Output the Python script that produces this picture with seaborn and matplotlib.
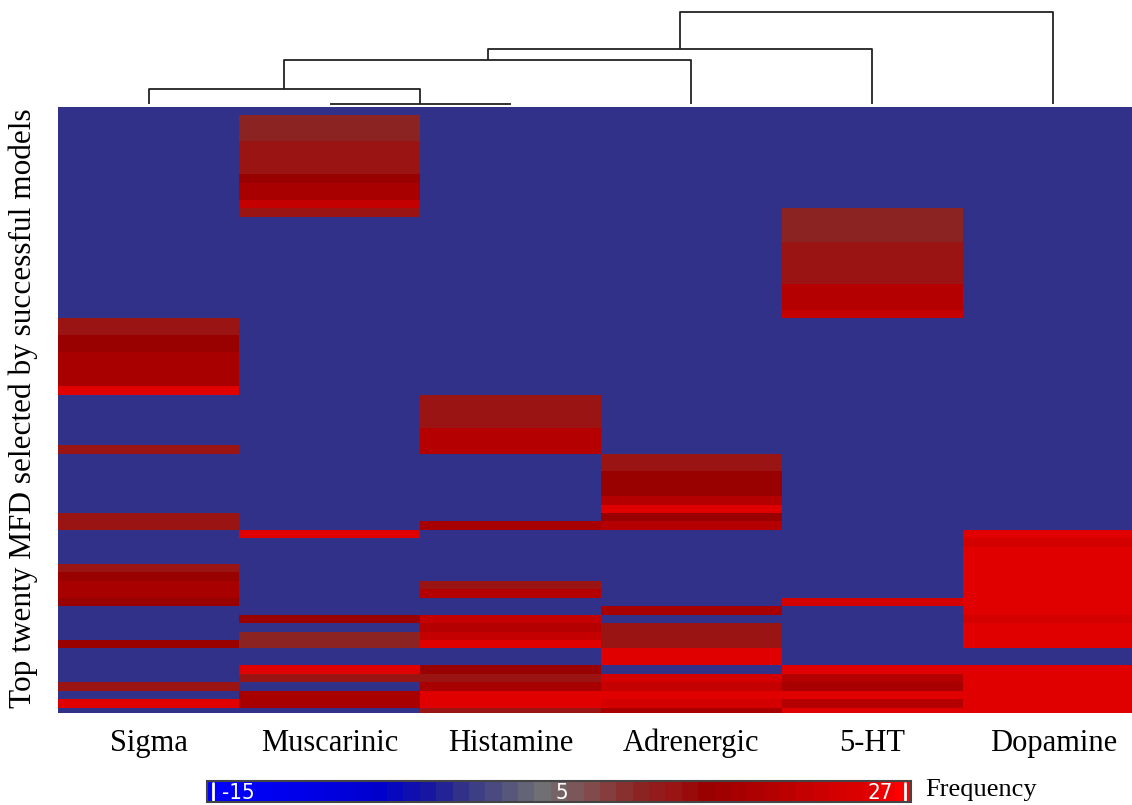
import numpy as np
import pandas as pd
import matplotlib
matplotlib.use("Agg")
import matplotlib.pyplot as plt
from matplotlib.colors import LinearSegmentedColormap, ListedColormap, BoundaryNorm
import seaborn as sns

# ---------------- data ----------------
receptors = ["Sigma", "Muscarinic", "Histamine", "Adrenergic", "5-HT", "Dopamine"]

sigma = [0, 0, 0, 0, 0, 0, 0, 0, 0, 0, 0, 0,
         0, 0, 0, 0, 0, 0, 0, 0, 0, 0, 0, 0,
         0, 13, 13, 15, 15, 17, 17, 17, 17, 25, 0, 0,
         0, 0, 0, 0, 13, 0, 0, 0, 0, 0, 0, 0,
         13, 13, 0, 0, 0, 0, 13, 15, 17, 17, 15, 0,
         0, 0, 0, 15, 0, 0, 0, 0, 13, 0, 25, 0]
muscarinic = [0, 11, 11, 11, 13, 13, 13, 13, 15, 17, 17, 21,
              13, 0, 0, 0, 0, 0, 0, 0, 0, 0, 0, 0,
              0, 0, 0, 0, 0, 0, 0, 0, 0, 0, 0, 0,
              0, 0, 0, 0, 0, 0, 0, 0, 0, 0, 0, 0,
              0, 0, 25, 0, 0, 0, 0, 0, 0, 0, 0, 0,
              15, 0, 11, 11, 0, 0, 25, 13, 0, 17, 17, 0]
histamine = [0, 0, 0, 0, 0, 0, 0, 0, 0, 0, 0, 0,
             0, 0, 0, 0, 0, 0, 0, 0, 0, 0, 0, 0,
             0, 0, 0, 0, 0, 0, 0, 0, 0, 0, 13, 13,
             13, 13, 19, 19, 19, 0, 0, 0, 0, 0, 0, 0,
             0, 17, 0, 0, 0, 0, 0, 0, 13, 19, 0, 0,
             21, 19, 21, 25, 0, 0, 15, 13, 17, 25, 25, 13]
adrenergic = [0, 0, 0, 0, 0, 0, 0, 0, 0, 0, 0, 0,
              0, 0, 0, 0, 0, 0, 0, 0, 0, 0, 0, 0,
              0, 0, 0, 0, 0, 0, 0, 0, 0, 0, 0, 0,
              0, 0, 0, 0, 0, 13, 13, 15, 15, 15, 19, 25,
              15, 19, 0, 0, 0, 0, 0, 0, 0, 0, 0, 17,
              0, 13, 13, 13, 25, 25, 0, 23, 21, 25, 23, 17]
serotonin = [0, 0, 0, 0, 0, 0, 0, 0, 0, 0, 0, 0,
             11, 11, 11, 11, 13, 13, 13, 13, 13, 19, 19, 19,
             21, 0, 0, 0, 0, 0, 0, 0, 0, 0, 0, 0,
             0, 0, 0, 0, 0, 0, 0, 0, 0, 0, 0, 0,
             0, 0, 0, 0, 0, 0, 0, 0, 0, 0, 23, 0,
             0, 0, 0, 0, 0, 0, 25, 19, 17, 25, 19, 25]
dopamine = [0, 0, 0, 0, 0, 0, 0, 0, 0, 0, 0, 0,
            0, 0, 0, 0, 0, 0, 0, 0, 0, 0, 0, 0,
            0, 0, 0, 0, 0, 0, 0, 0, 0, 0, 0, 0,
            0, 0, 0, 0, 0, 0, 0, 0, 0, 0, 0, 0,
            0, 0, 25, 23, 25, 25, 25, 25, 25, 25, 25, 25,
            23, 25, 25, 25, 0, 0, 25, 25, 25, 25, 25, 25]

# dendrogram merges over the columns: (cluster a, cluster b, height); new clusters numbered from 6
merges = [(1, 2, 0.0), (0, 6, 15.0), (7, 3, 44.0), (8, 4, 55.0), (9, 5, 92.0)]

vmin, vmax = -15, 27
cbar_labels = ["-15", "5", "27"]

# ---------------- style ----------------
sns.set_theme(style="white")
plt.rcParams["font.family"] = ["Liberation Serif", "DejaVu Serif"]

cmap_nodes = [(-15, (0, 0, 255)), (-10, (0, 0, 235)), (-5, (0, 0, 205)), (-2, (22, 22, 160)),
              (0, (49, 49, 137)), (5, (112, 112, 116)), (8, (130, 75, 75)), (11, (139, 35, 35)),
              (13, (154, 20, 20)), (15, (153, 0, 0)), (17, (168, 0, 0)), (19, (180, 0, 0)),
              (21, (196, 0, 0)), (23, (212, 0, 0)), (25, (224, 0, 0)), (27, (255, 0, 0))]
smooth = LinearSegmentedColormap.from_list(
    "freq", [((v - vmin) / (vmax - vmin), tuple(c / 255 for c in col)) for v, col in cmap_nodes], N=1024)
levels = np.arange(vmin, vmax + 1)
cmap = ListedColormap([smooth((v - vmin) / (vmax - vmin)) for v in levels])
norm = BoundaryNorm(np.arange(vmin - 0.5, vmax + 1.0, 1.0), cmap.N)

df = pd.DataFrame({"Sigma": sigma, "Muscarinic": muscarinic, "Histamine": histamine,
                   "Adrenergic": adrenergic, "5-HT": serotonin, "Dopamine": dopamine})[receptors]

W, H = 1132, 805
fig = plt.figure(figsize=(W / 100, H / 100), dpi=100)

left_px, right_px, top_px, bot_px = 58.3, 1132.0, 106.7, 713.3
col_w = 180.9
row_h = 8.465
ax = fig.add_axes([left_px / W, 1 - bot_px / H, (right_px - left_px) / W, (bot_px - top_px) / H])
cax = fig.add_axes([207 / W, 1 - 802 / H, 704 / W, 21 / H])
dax = fig.add_axes([left_px / W, 1 - top_px / H, (right_px - left_px) / W, top_px / H])

sns.heatmap(df, ax=ax, cmap=cmap, norm=norm, cbar_ax=cax,
            cbar_kws={"orientation": "horizontal"}, yticklabels=False, xticklabels=receptors)
ax.set_xlim(0, (right_px - left_px) / col_w)
ax.set_ylim((bot_px - top_px) / row_h, 0)
ax.tick_params(axis="x", length=0, pad=11, labelsize=22, labelrotation=0)
for t in ax.get_xticklabels():
    t.set_color("black")
ax.set_xlabel("")
ax.set_ylabel("")

fig.text(23 / W, 1 - 408 / H, "Top twenty MFD selected by successful models",
         rotation=90, ha="center", va="center", fontsize=22.5, color="black")

# colorbar decoration
cbar = ax.collections[0].colorbar
cbar.set_ticks([])
cbar.minorticks_off()
cbar.outline.set_edgecolor("#444444")
cbar.outline.set_linewidth(1.5)
for val, txt in zip([vmin + 1.4, 6.2, vmax - 1.4], cbar_labels):
    cax.text(val, 0.45, txt, color="white", ha="center", va="center", fontsize=16,
             family=["Liberation Sans Narrow", "DejaVu Sans"], fontstretch="condensed",
             transform=cax.get_xaxis_transform())
cax.axvline(vmin - 0.15, ymin=0.1, ymax=0.9, color="white", lw=2)
cax.axvline(vmax + 0.15, ymin=0.1, ymax=0.9, color="white", lw=2)
fig.text(925 / W, 1 - 790 / H, "Frequency", ha="left", va="center", fontsize=19, color="black")

# dendrogram computed from the merge list
xpos = {i: i + 0.5 for i in range(len(receptors))}
hgt = {i: 0.0 for i in range(len(receptors))}
for k, (a, b, h) in enumerate(merges):
    xa, xb, ha, hb = xpos[a], xpos[b], hgt[a], hgt[b]
    dax.plot([xa, xa, xb, xb], [ha, h, h, hb], color="#222222", lw=1.3, solid_capstyle="butt")
    nid = len(receptors) + k
    xpos[nid] = (xa + xb) / 2
    hgt[nid] = h
dax.set_xlim(ax.get_xlim())
dax.set_ylim(-(top_px - 104.3), 104.3)
dax.axis("off")

fig.savefig("out.png", dpi=100)
